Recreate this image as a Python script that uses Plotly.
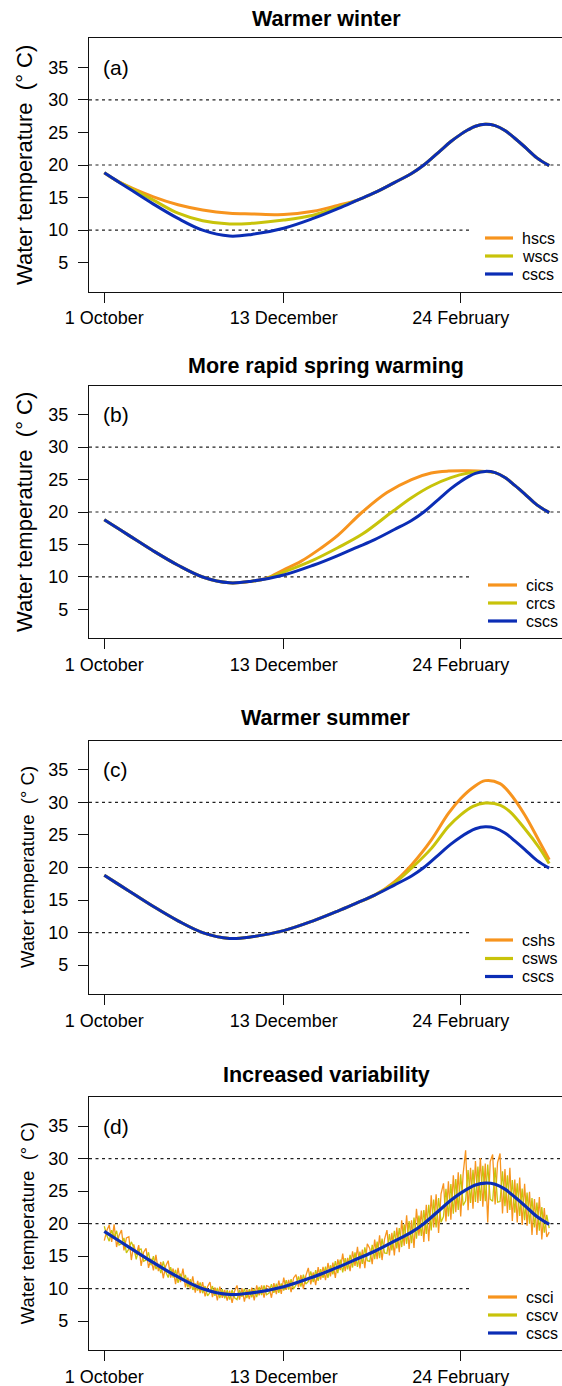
import plotly.graph_objects as go

W, H = 562, 1386

# ---------------- data ----------------
tick_days = [0, 73, 145]
tick_labels = ["1 October", "13 December", "24 February"]
y_ticks = [5, 10, 15, 20, 25, 30, 35]
ref_levels = [10, 20, 30]

# baseline (cscs) control points
base_days = [0, 5, 10, 20, 30, 40, 51, 60, 73, 85, 95, 103, 110, 118, 125, 130, 137, 141, 145, 148, 151, 155, 159, 163, 167, 171, 176, 181]
cscs = [18.8, 17.6, 16.4, 14.0, 11.8, 10.0, 9.1, 9.35, 10.3, 11.8, 13.3, 14.6, 15.75, 17.3, 18.7, 20.0, 22.3, 23.6, 24.7, 25.4, 25.95, 26.25, 26.05, 25.3, 24.1, 22.8, 21.1, 19.9]

# (a) warmer winter
hscs_days = [0, 5, 20, 30, 40, 51, 60, 73, 85, 95, 103, 110, 118, 125, 130, 137, 141, 145, 148, 151, 155, 159, 163, 167, 171, 176, 181]
hscs = [18.8, 17.6, 15.1, 13.9, 13.1, 12.6, 12.5, 12.4, 12.9, 13.8, 14.6, 15.75, 17.3, 18.7, 20.0, 22.3, 23.6, 24.7, 25.4, 25.95, 26.25, 26.05, 25.3, 24.1, 22.8, 21.1, 19.9]
wscs_days = [0, 5, 20, 30, 40, 51, 60, 73, 85, 95, 103, 110, 118, 125, 130, 137, 141, 145, 148, 151, 155, 159, 163, 167, 171, 176, 181]
wscs = [18.8, 17.6, 14.6, 12.6, 11.45, 10.95, 11.05, 11.55, 12.3, 13.5, 14.6, 15.75, 17.3, 18.7, 20.0, 22.3, 23.6, 24.7, 25.4, 25.95, 26.25, 26.05, 25.3, 24.1, 22.8, 21.1, 19.9]

# (b) more rapid spring warming
cics_days = [0, 5, 10, 20, 30, 40, 51, 60, 66, 73, 80, 88, 95, 105, 115, 125, 133, 140, 148, 155, 159, 163, 167, 171, 176, 181]
cics = [18.8, 17.6, 16.4, 14.0, 11.8, 10.0, 9.1, 9.35, 9.8, 11.1, 12.4, 14.4, 16.4, 20.0, 23.0, 25.0, 26.0, 26.3, 26.35, 26.25, 26.05, 25.3, 24.1, 22.8, 21.1, 19.9]
crcs_days = [0, 5, 10, 20, 30, 40, 51, 60, 66, 73, 85, 95, 105, 117, 125, 133, 141, 148, 155, 159, 163, 167, 171, 176, 181]
crcs = [18.8, 17.6, 16.4, 14.0, 11.8, 10.0, 9.1, 9.35, 9.75, 10.75, 12.6, 14.5, 16.6, 20.0, 22.2, 24.0, 25.3, 26.0, 26.25, 26.05, 25.3, 24.1, 22.8, 21.1, 19.9]

# (c) warmer summer
cshs_days = [0, 5, 10, 20, 30, 40, 51, 60, 73, 85, 95, 103, 110, 118, 125, 133, 140, 145, 150, 155, 161, 165, 171, 177, 181]
cshs = [18.8, 17.6, 16.4, 14.0, 11.8, 10.0, 9.1, 9.35, 10.3, 11.8, 13.3, 14.6, 15.75, 17.8, 20.4, 24.2, 28.3, 30.6, 32.3, 33.35, 32.9, 31.4, 28.1, 24.0, 21.2]
csws_days = [0, 5, 10, 20, 30, 40, 51, 60, 73, 85, 95, 103, 110, 118, 125, 133, 140, 145, 150, 155, 161, 165, 171, 177, 181]
csws = [18.8, 17.6, 16.4, 14.0, 11.8, 10.0, 9.1, 9.35, 10.3, 11.8, 13.3, 14.6, 15.75, 17.6, 19.9, 22.9, 26.3, 28.1, 29.4, 29.9, 29.6, 28.6, 26.0, 23.0, 20.6]

# (d) increased variability (daily values)
daily_days = list(range(182))
csci = [
    17.4, 18.9, 19.8, 17.2, 19.9, 16.4, 18.2, 19.0, 15.9, 17.8,
    18.0, 14.4, 16.8, 15.2, 16.7, 13.5, 15.6, 16.2, 13.2, 14.6,
    12.8, 15.2, 12.7, 14.1, 11.6, 13.5, 14.3, 11.7, 13.1, 10.7,
    13.2, 11.0, 13.1, 10.2, 11.7, 10.0, 11.9, 9.4, 11.2, 9.3,
    11.0, 8.8, 10.3, 11.0, 8.7, 10.2, 8.2, 10.3, 8.6, 9.8,
    8.15, 9.7, 7.8, 9.6, 10.5, 8.3, 10.05, 8.0, 9.85, 8.4,
    10.15, 8.2, 10.5, 8.95, 10.5, 8.6, 10.45, 10.3, 8.6, 10.85,
    9.15, 11.25, 9.2, 11.7, 9.8, 11.35, 9.45, 11.65, 12.15, 10.2,
    12.1, 9.95, 12.0, 13.2, 10.65, 12.5, 10.55, 13.3, 11.4, 13.35,
    11.3, 13.95, 11.9, 14.0, 11.65, 14.5, 12.85, 15.4, 12.7, 14.75,
    12.7, 15.75, 13.5, 16.45, 13.1, 16.0, 13.15, 16.9, 16.2, 13.75,
    17.55, 14.55, 18.2, 14.4, 17.6, 19.0, 15.1, 18.6, 15.1, 19.4,
    15.6, 20.5, 16.6, 21.3, 16.1, 20.5, 16.25, 22.3, 18.15, 22.0,
    17.2, 22.9, 17.3, 24.35, 19.4, 24.5, 18.55, 24.6, 26.2, 20.35,
    26.5, 20.6, 27.45, 21.75, 27.9, 21.1, 27.7, 31.3, 22.05, 28.6,
    22.3, 29.65, 23.2, 30.1, 22.6, 29.25, 20.2, 29.55, 30.65, 22.95,
    29.4, 30.8, 21.55, 28.4, 21.65, 28.6, 20.4, 26.8, 20.2, 27.1,
    19.8, 26.15, 19.7, 24.9, 18.25, 23.8, 18.25, 24.1, 17.55, 22.4, 17.95, 18.7,
]
cscv = [
    19.6, 18.2, 17.3, 19.0, 18.0, 18.9, 16.7, 16.9, 17.8, 15.5,
    16.1, 17.2, 16.3, 14.5, 16.0, 16.1, 14.2, 14.4, 15.6, 13.6,
    15.0, 13.0, 13.8, 12.4, 14.2, 12.6, 11.7, 13.3, 11.7, 12.9,
    10.9, 12.3, 11.2, 12.1, 10.2, 11.45, 9.8, 10.8, 9.7, 10.95,
    9.3, 10.4, 8.9, 9.4, 10.4, 8.9, 10.1, 8.55, 9.9, 8.5,
    9.75, 8.3, 9.8, 8.6, 8.3, 9.8, 8.75, 10.0, 8.55, 9.9,
    8.65, 10.0, 8.7, 10.25, 9.0, 10.5, 9.05, 9.3, 10.7, 9.35,
    10.75, 9.35, 10.8, 9.7, 11.3, 9.85, 11.45, 9.95, 10.55, 11.9,
    10.3, 12.15, 10.7, 11.1, 12.65, 11.0, 12.85, 11.2, 13.0, 11.65,
    13.4, 11.65, 13.6, 12.2, 14.25, 12.4, 14.45, 12.5, 14.7, 12.95,
    15.2, 13.25, 15.6, 13.35, 15.7, 13.8, 16.35, 14.3, 14.2, 16.75,
    14.55, 17.25, 14.7, 17.7, 15.5, 15.4, 18.4, 15.9, 18.9, 16.2,
    19.3, 16.4, 19.9, 16.9, 20.4, 17.0, 20.95, 17.7, 21.25, 18.1,
    22.1, 18.4, 22.9, 18.95, 23.7, 19.4, 23.95, 20.2, 21.1, 25.35,
    21.1, 26.1, 21.55, 26.85, 22.1, 27.6, 22.8, 23.5, 28.25, 23.2,
    28.3, 23.35, 28.8, 23.5, 28.9, 23.45, 29.1, 23.75, 23.45, 28.65,
    23.3, 23.4, 28.05, 22.7, 27.45, 22.1, 26.7, 21.7, 26.2, 21.2,
    25.4, 20.55, 24.8, 20.0, 23.95, 19.4, 23.25, 18.9, 22.55, 18.6, 21.35, 19.3,
]

titles = ["Warmer winter", "More rapid spring warming", "Warmer summer", "Increased variability"]
panel_tags = ["(a)", "(b)", "(c)", "(d)"]
legend_names = [["hscs", "wscs", "cscs"], ["cics", "crcs", "cscs"],
                ["cshs", "csws", "cscs"], ["csci", "cscv", "cscs"]]

# ---------------- style ----------------
ORANGE = "#F7941E"
YELLOW = "#C8C30A"
BLUE = "#0B2DB5"
FONT = "Liberation Sans, Arial, sans-serif"
INK = "#111111"

# pixel layout of each panel box (top, bottom)
boxes = [(38.3, 291.7), (385.7, 638.3), (741.0, 994.0), (1097.3, 1350.0)]
title_y = [19, 366, 718, 1075]
ytitle_x = [24, 24, 27.5, 27.5]
ytitle_size = [22, 22, 18.5, 18.5]
legend_rows = [[238, 256, 274], [585, 603, 621], [940, 958.5, 976.5], [1297, 1315, 1333]]
legend_x = [(485, 513, 520), (488, 517, 524), (485, 513, 520), (488, 517, 524)]
box_left = 89
X_RANGE = [-6.22, 186.21]
Y_RANGE = [0.56, 39.44]
TEN_LINE_END = 148.8


def px(x):
    return x / W


def py(y):
    return 1 - y / H


fig = go.Figure()

series = [
    [(hscs_days, hscs, ORANGE, 3), (wscs_days, wscs, YELLOW, 3), (base_days, cscs, BLUE, 3)],
    [(cics_days, cics, ORANGE, 3), (crcs_days, crcs, YELLOW, 3), (base_days, cscs, BLUE, 3)],
    [(cshs_days, cshs, ORANGE, 3), (csws_days, csws, YELLOW, 3), (base_days, cscs, BLUE, 3)],
    [(daily_days, csci, ORANGE, 1.3), (daily_days, cscv, YELLOW, 1.3), (base_days, cscs, BLUE, 3.2)],
]

shapes = []
annotations = []

for i in range(4):
    sfx = "" if i == 0 else str(i + 1)
    xa, ya = "x" + sfx, "y" + sfx
    for (d, v, col, w), name in zip(series[i], legend_names[i]):
        shape = "linear" if (i == 3 and w < 2) else "spline"
        fig.add_trace(go.Scatter(x=d, y=v, mode="lines", name=name, xaxis=xa, yaxis=ya,
                                 line=dict(color=col, width=w, shape=shape),
                                 showlegend=False, hoverinfo="skip"))
    top, bot = boxes[i]
    fig.layout["xaxis" + sfx] = dict(
        domain=[px(box_left), 1.0], range=X_RANGE, anchor=ya, automargin=False,
        showline=True, linecolor=INK, linewidth=1.2, mirror=True,
        ticks="outside", ticklen=10, tickwidth=1.2, tickcolor=INK,
        tickvals=tick_days, ticktext=tick_labels, showgrid=False, zeroline=False,
        tickfont=dict(family=FONT, size=18, color="#000"), ticklabelstandoff=0,
        fixedrange=True)
    fig.layout["yaxis" + sfx] = dict(
        domain=[py(bot), py(top)], range=Y_RANGE, anchor=xa, automargin=False,
        showline=True, linecolor=INK, linewidth=1.2, mirror=False,
        ticks="outside", ticklen=10, tickwidth=1.2, tickcolor=INK,
        tickvals=y_ticks, showgrid=False, zeroline=False,
        tickfont=dict(family=FONT, size=18, color="#000"), ticklabelstandoff=6,
        fixedrange=True)
    # dashed reference lines
    for lv in ref_levels:
        x1 = TEN_LINE_END if lv == 10 else X_RANGE[1]
        shapes.append(dict(type="line", xref=xa, yref=ya, x0=X_RANGE[0], x1=x1, y0=lv, y1=lv,
                           line=dict(color="#222", width=1.2, dash="3px,3.5px"), layer="below"))
    # title
    annotations.append(dict(text="<b>" + titles[i] + "</b>", xref="paper", yref="paper",
                            x=px(326), y=py(title_y[i]), xanchor="center", yanchor="middle",
                            showarrow=False, font=dict(family=FONT, size=21.5, color="#000")))
    # y axis title
    annotations.append(dict(text="Water temperature\u00a0 (\u00b0 C)", xref="paper", yref="paper",
                            x=px(ytitle_x[i]), y=py((top + bot) / 2), xanchor="center",
                            yanchor="middle", textangle=-90, showarrow=False,
                            font=dict(family=FONT, size=ytitle_size[i], color="#000")))
    # panel tag
    annotations.append(dict(text=panel_tags[i], xref=xa, yref=ya, x=-1.3, y=35,
                            xanchor="left", yanchor="middle", showarrow=False,
                            font=dict(family=FONT, size=21, color="#000")))
    # legend
    lx0, lx1, tx = legend_x[i]
    cols = [ORANGE, YELLOW, BLUE]
    for name, yy, col in zip(legend_names[i], legend_rows[i], cols):
        shapes.append(dict(type="line", xref="paper", yref="paper", x0=px(lx0), x1=px(lx1),
                           y0=py(yy), y1=py(yy), line=dict(color=col, width=3.2)))
        annotations.append(dict(text=name, xref="paper", yref="paper", x=px(tx), y=py(yy),
                                xanchor="left", yanchor="middle", showarrow=False,
                                font=dict(family=FONT, size=16, color="#000")))

fig.update_layout(width=W, height=H, margin=dict(l=0, r=0, t=0, b=0, pad=0, autoexpand=False),
                  paper_bgcolor="white", plot_bgcolor="white",
                  shapes=shapes, annotations=annotations, showlegend=False,
                  font=dict(family=FONT, color="#000"))

fig.write_html("out.html", config={"displayModeBar": False})
